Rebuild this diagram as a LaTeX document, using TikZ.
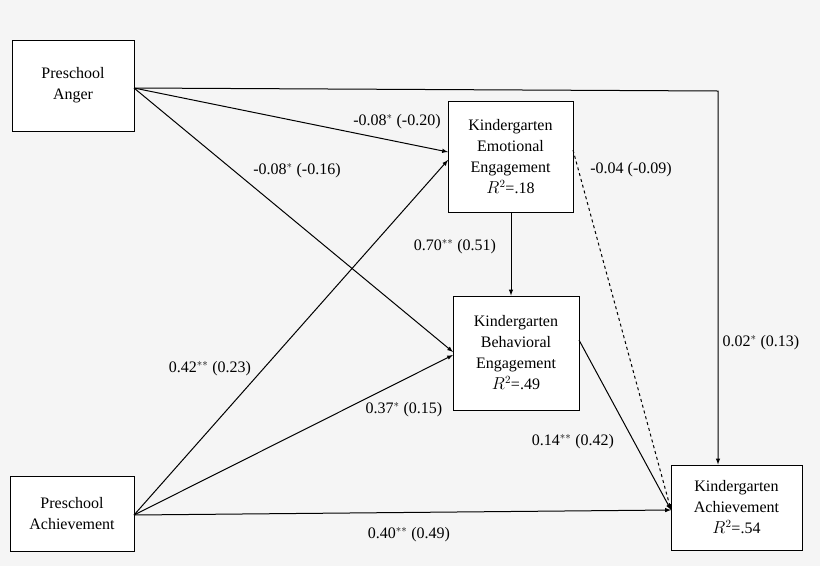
\documentclass[tikz,border=0pt]{standalone}
\usepackage{fontspec}
\setmainfont{Liberation Serif}
\begin{document}
\begin{tikzpicture}[x=1pt,y=-1pt,
  box/.style={draw,fill=white,line width=1pt,align=center,font=\fontsize{16}{21}\selectfont,inner sep=0pt},
  lab/.style={font=\fontsize{16}{19}\selectfont,inner sep=1pt},
  arr/.style={-latex,line width=1pt}]
\fill[gray!8] (0,0) rectangle (820,566);
\useasboundingbox (0,0) rectangle (820,566);
\node[box,minimum width=122pt,minimum height=91pt] (pa) at (73,85.5) {Preschool\\Anger};
\node[box,minimum width=125pt,minimum height=111pt] (ee) at (510.5,156.5) {Kindergarten\\Emotional\\Engagement\\$R^2$=.18};
\node[box,minimum width=126pt,minimum height=114pt] (be) at (516,353) {Kindergarten\\Behavioral\\Engagement\\$R^2$=.49};
\node[box,minimum width=131pt,minimum height=85pt] (ka) at (736.5,507.5) {Kindergarten\\Achievement\\$R^2$=.54};
\node[box,minimum width=124pt,minimum height=75pt] (pach) at (72,513.5) {Preschool\\Achievement};
\coordinate (corner) at (718,91);
\draw[arr] (pa.east |- 0,88) -- (corner) -- (ka.north -| corner);
\draw[arr] (134,88) -- (448,152);
\draw[arr] (134,88) -- (453,352);
\draw[arr] (134,515) -- (448,160);
\draw[arr] (134,515) -- (453,355);
\draw[arr] (134,515) -- (671,510);
\draw[arr] (ee.south -| 511,0) -- (be.north -| 511,0);
\draw[arr,dashed] (573,150) -- (671,510);
\draw[arr] (579,340) -- (671,510);
\node[lab] at (397,122) {-0.08$^{*}$ (-0.20)};
\node[lab] at (297,171) {-0.08$^{*}$ (-0.16)};
\node[lab] at (631,170) {-0.04 (-0.09)};
\node[lab] at (455,247) {0.70$^{**}$ (0.51)};
\node[lab] at (210,369) {0.42$^{**}$ (0.23)};
\node[lab] at (404,410) {0.37$^{*}$ (0.15)};
\node[lab] at (761,343) {0.02$^{*}$ (0.13)};
\node[lab] at (573,442) {0.14$^{**}$ (0.42)};
\node[lab] at (409,535) {0.40$^{**}$ (0.49)};
\end{tikzpicture}
\end{document}
